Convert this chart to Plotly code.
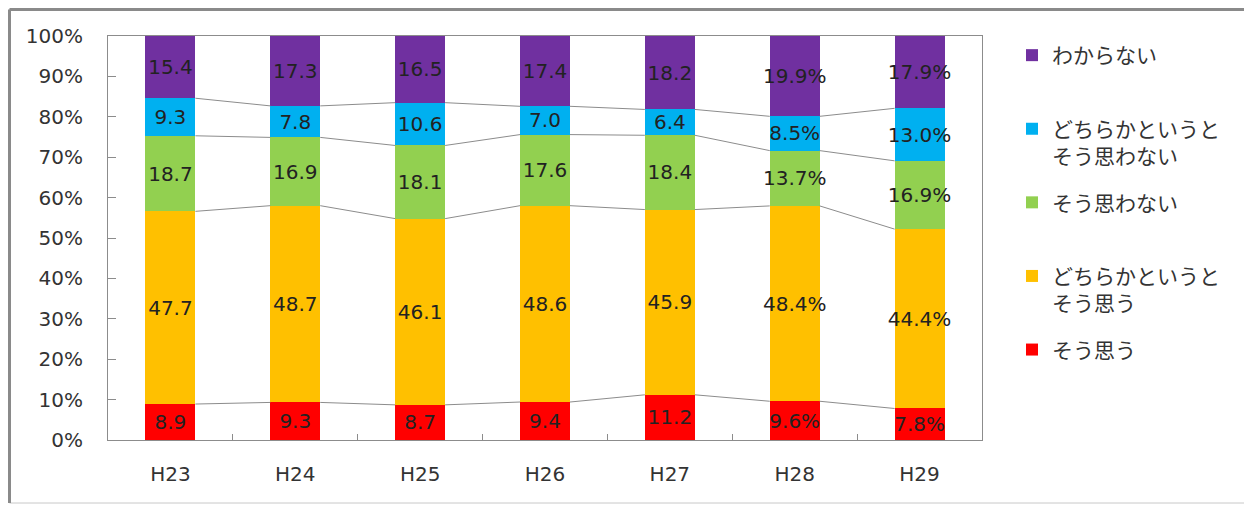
import numpy as np
import plotly.graph_objects as go

years = ["H23", "H24", "H25", "H26", "H27", "H28", "H29"]
label_suffix = ["", "", "", "", "", "%", "%"]

# bottom to top
series_names = [
    "そう思う<br> ",
    "どちらかというと<br>そう思う",
    "そう思わない<br> ",
    "どちらかというと<br>そう思わない",
    "わからない<br> ",
]
agree = [8.9, 9.3, 8.7, 9.4, 11.2, 9.6, 7.8]
rather_agree = [47.7, 48.7, 46.1, 48.6, 45.9, 48.4, 44.4]
disagree = [18.7, 16.9, 18.1, 17.6, 18.4, 13.7, 16.9]
rather_disagree = [9.3, 7.8, 10.6, 7.0, 6.4, 8.5, 13.0]
unknown = [15.4, 17.3, 16.5, 17.4, 18.2, 19.9, 17.9]

colors = ["#FF0000", "#FFC000", "#92D050", "#00B0F0", "#7030A0"]

series = [agree, rather_agree, disagree, rather_disagree, unknown]
x = np.arange(len(years))
bar_w = 0.4

# the page body adds an 8px offset, so the figure is sized to compensate
W, H, OFF = 1244, 498, 8

fig = go.Figure()

for k, (name, vals, col) in enumerate(zip(series_names, series, colors)):
    fig.add_trace(go.Bar(
        x=x, y=vals, name=name, width=bar_w,
        marker=dict(color=col, line=dict(width=0)),
        text=[f"{v:.1f}{s}" for v, s in zip(vals, label_suffix)],
        textposition="inside", insidetextanchor="middle",
        textangle=0, constraintext="none",
        textfont=dict(family="DejaVu Sans", size=20, color="#222222"),
        legendgroup=f"g{k}", legendrank=1000 - k * 100,
    ))

# series lines between bars (on normalised cumulative tops)
arr = np.array(series, dtype=float)
cum = np.cumsum(arr / arr.sum(axis=0) * 100, axis=0)
lx, ly = [], []
for level in cum[:-1]:
    for i in range(len(years) - 1):
        lx += [x[i] + bar_w / 2, x[i + 1] - bar_w / 2, None]
        ly += [level[i], level[i + 1], None]
fig.add_trace(go.Scatter(
    x=lx, y=ly, mode="lines", showlegend=False, hoverinfo="skip",
    line=dict(color="#8c8c8c", width=1),
))

fig.update_layout(
    barmode="stack",
    barnorm="percent",
    width=W, height=H,
    margin=dict(l=100, r=270, t=28, b=66),
    paper_bgcolor="white", plot_bgcolor="white",
    font=dict(family="DejaVu Sans", size=20, color="#333333"),
    legend=dict(
        traceorder="grouped", valign="top",
        xref="container", yref="container",
        x=(1012 - OFF) / W, y=1 - (35 - OFF) / H, xanchor="left", yanchor="top",
        font=dict(family="Noto Sans CJK JP", size=21, color="#333333"),
        tracegroupgap=16, itemclick=False, maxheight=1,
    ),
    showlegend=True,
)
fig.update_xaxes(
    range=[-0.5, len(years) - 0.5],
    tickvals=x, ticktext=years, ticks="",
    showline=True, linecolor="#8c8c8c", linewidth=1, mirror=True,
    showgrid=False, zeroline=False,
    ticklabelstandoff=16,
    minor=dict(tickvals=list(x[:-1] + 0.5), ticks="inside", ticklen=6,
               tickcolor="#8c8c8c", showgrid=False),
    tickfont=dict(size=20, color="#333333"),
)
fig.update_yaxes(
    range=[0, 100], dtick=10, ticksuffix="%",
    ticks="inside", ticklen=8, tickcolor="#8c8c8c",
    showline=True, linecolor="#8c8c8c", linewidth=1, mirror=True,
    showgrid=False, zeroline=False,
    ticklabelstandoff=20,
    tickfont=dict(size=20, color="#333333"),
)

# outer frame of the picture (screen px -> paper fractions)
fl, fr, ft, fb = (9.5 - 108) / 874, (1249 - 108) / 874, (440 - 9.5) / 404, (440 - 503) / 404
fig.add_shape(type="rect", xref="paper", yref="paper",
              x0=fl, x1=fr, y0=fb, y1=ft,
              line=dict(color="#c8c8c8", width=1))
fig.add_shape(type="line", xref="paper", yref="paper",
              x0=fl, x1=fl, y0=fb, y1=ft,
              line=dict(color="#8a8a8a", width=3))
fig.add_shape(type="line", xref="paper", yref="paper",
              x0=fl, x1=fr, y0=ft, y1=ft,
              line=dict(color="#8a8a8a", width=3))

fig.write_html("out.html")
